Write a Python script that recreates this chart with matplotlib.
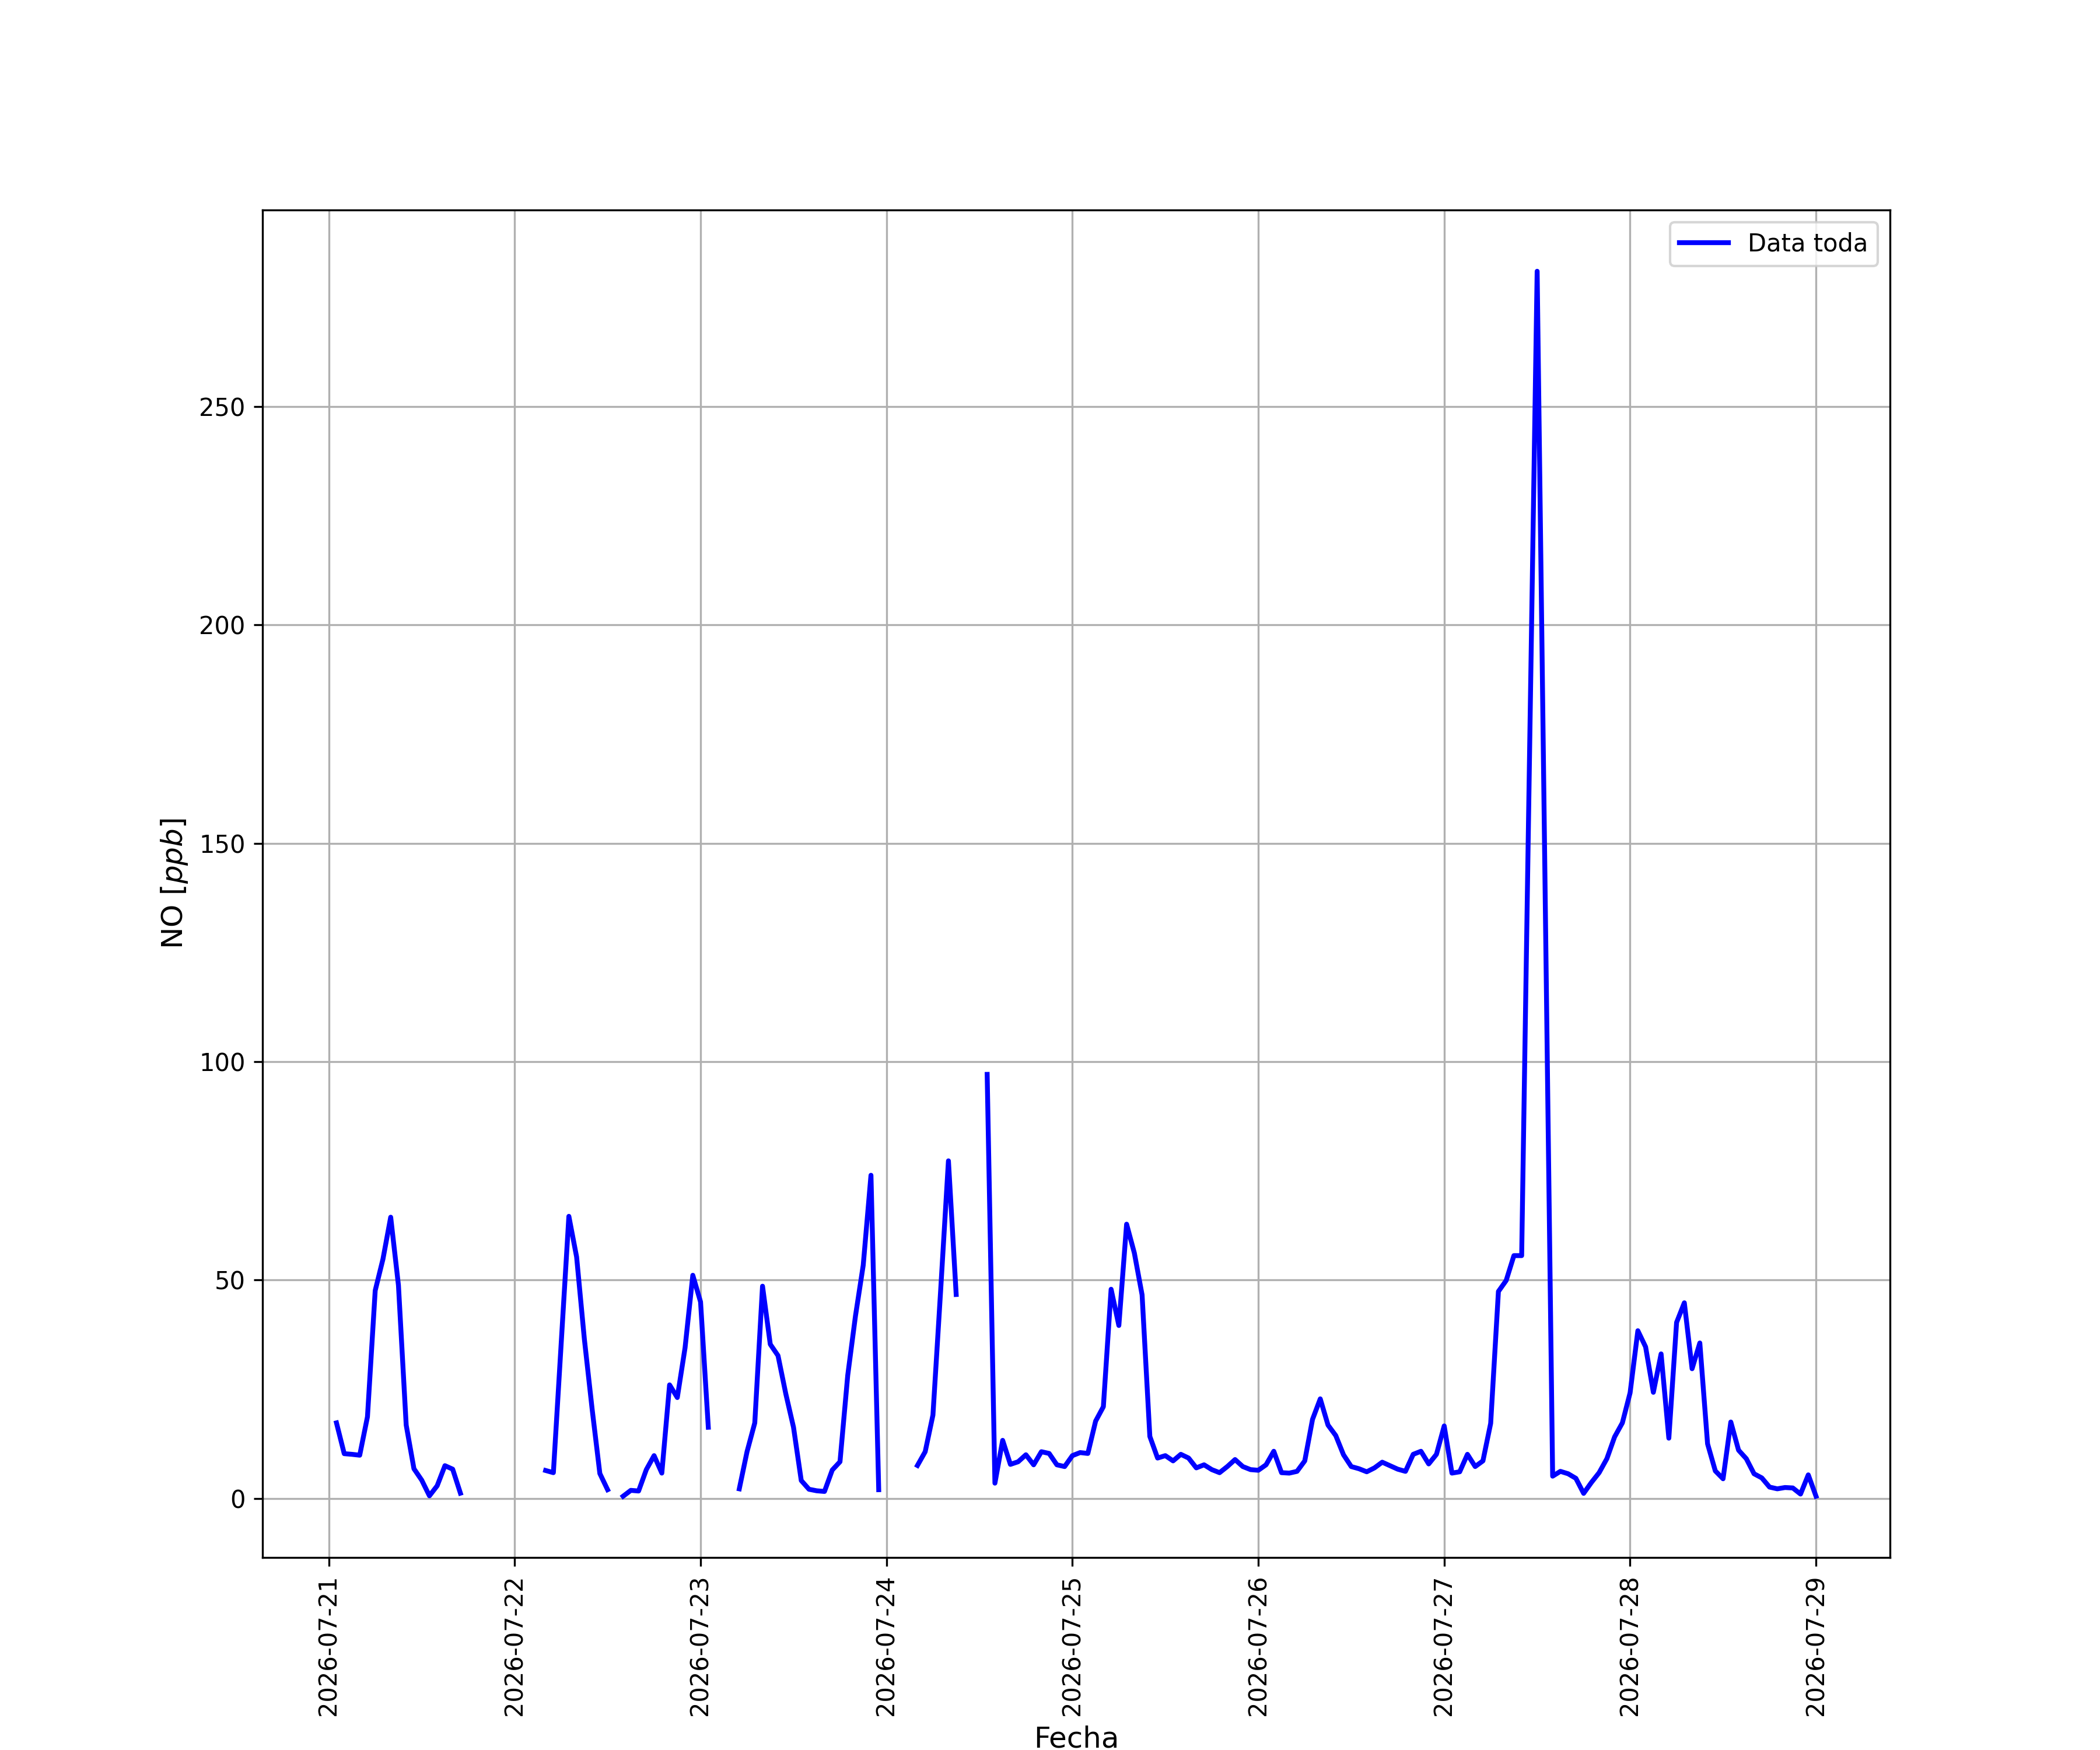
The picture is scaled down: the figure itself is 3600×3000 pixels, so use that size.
import numpy as np
import pandas as pd
import matplotlib
matplotlib.use("Agg")
import matplotlib.pyplot as plt
import matplotlib.dates as mdates

nan = np.nan

# NO hourly values (ppb), one list per day
d21 = [17.3, 10.25, 10.1, 9.9, 18.7, 47.6, 54.8, 64.4, 48.8, 16.8, 6.8, 4.2,
       0.6, 2.9, 7.5, 6.7, 1.2, nan, nan, nan, nan, nan, nan]  # from 01:00
d22 = [nan, nan, nan, nan, 6.4, 5.9, 35.2, 64.6, 55.3, 36.5, 20.5, 5.7,
       2.0, nan, 0.5, 1.85, 1.7, 6.6, 9.8, 5.8, 26.0, 23.1, 34.5, 51.1]
d23 = [45.0, 16.3, nan, nan, nan, 2.2, 10.7, 17.3, 48.6, 35.3, 32.7, 24.0,
       16.3, 4.1, 2.1, 1.75, 1.6, 6.5, 8.4, 28.2, 41.8, 53.4, 74.0, 2.0]
d24 = [nan, nan, nan, nan, 7.55, 10.7, 19.1, 47.8, 77.3, 46.7, nan, nan,
       nan, 97.1, 3.5, 13.3, 7.8, 8.4, 10.0, 7.7, 10.7, 10.3, 7.7, 7.3]
d25 = [9.8, 10.5, 10.3, 17.7, 21.0, 47.9, 39.6, 62.8, 56.2, 46.6, 14.2, 9.25,
       9.8, 8.6, 10.1, 9.25, 7.0, 7.7, 6.6, 5.9, 7.3, 8.9, 7.3, 6.6]
d26 = [6.45, 7.7, 10.8, 5.9, 5.8, 6.2, 8.6, 18.1, 22.8, 16.8, 14.4, 10.0,
       7.3, 6.8, 6.1, 7.0, 8.3, 7.5, 6.7, 6.2, 10.1, 10.8, 7.9, 10.1]
d27 = [16.6, 5.8, 6.1, 10.1, 7.3, 8.6, 17.2, 47.4, 49.9, 55.6, 55.6, 168.0,
       281.0, 143.0, 5.1, 6.2, 5.65, 4.6, 1.16, 3.65, 5.9, 9.1, 14.1, 17.3]
d28 = [24.2, 38.4, 34.7, 24.3, 33.1, 13.8, 40.3, 44.8, 29.7, 35.6, 12.5, 6.3,
       4.5, 17.5, 11.05, 9.1, 5.65, 4.7, 2.6, 2.2, 2.5, 2.4, 1.0, 5.4]
d29 = [0.5]

valores = d21 + d22 + d23 + d24 + d25 + d26 + d27 + d28 + d29
fechas = pd.date_range("2026-07-21 01:00", periods=len(valores), freq="h")

fig, ax = plt.subplots(figsize=(12, 10), dpi=300)
ax.plot(fechas, valores, color="blue", lw=2, label="Data toda")
ax.xaxis.set_major_locator(mdates.DayLocator())
ax.xaxis.set_major_formatter(mdates.DateFormatter("%Y-%m-%d"))
plt.xticks(rotation=90)
ax.set_xlabel("Fecha", fontsize=12)
ax.set_ylabel("NO [$ppb$]", fontsize=12)
ax.grid(True)
ax.legend(loc="upper right")
plt.savefig("out.png", dpi=300)
